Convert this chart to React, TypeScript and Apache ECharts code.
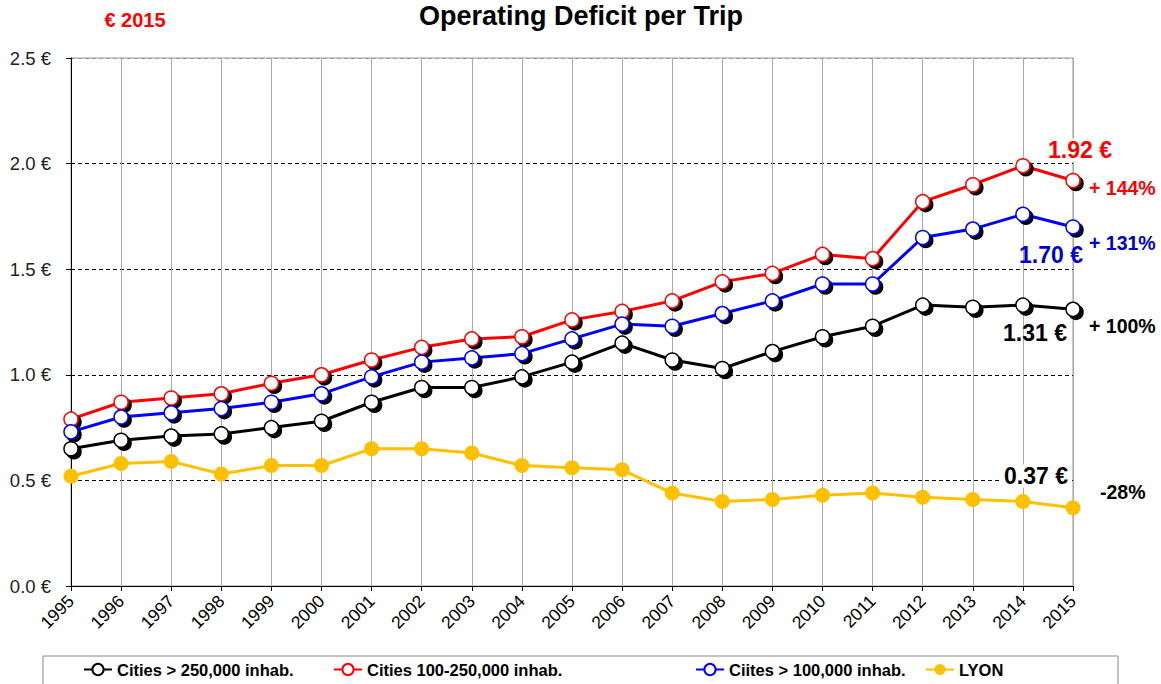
import React, { useEffect, useRef } from "react";
import * as echarts from "echarts";

const years = ["1995","1996","1997","1998","1999","2000","2001","2002","2003","2004","2005","2006","2007","2008","2009","2010","2011","2012","2013","2014","2015"];
const citiesOver250k = [0.65,0.69,0.71,0.72,0.75,0.78,0.87,0.94,0.94,0.99,1.06,1.15,1.07,1.03,1.11,1.18,1.23,1.33,1.32,1.33,1.31];
const cities100to250k = [0.79,0.87,0.89,0.91,0.96,1.00,1.07,1.13,1.17,1.18,1.26,1.30,1.35,1.44,1.48,1.57,1.55,1.82,1.90,1.99,1.92];
const citiesOver100k = [0.73,0.80,0.82,0.84,0.87,0.91,0.99,1.06,1.08,1.10,1.17,1.24,1.23,1.29,1.35,1.43,1.43,1.65,1.69,1.76,1.70];
const lyon = [0.52,0.58,0.59,0.53,0.57,0.57,0.65,0.65,0.63,0.57,0.56,0.55,0.44,0.40,0.41,0.43,0.44,0.42,0.41,0.40,0.37];
const seriesNames = ["Cities > 250,000 inhab.", "Cities 100-250,000 inhab.", "Ciites > 100,000 inhab.", "LYON"];

const FONT = "'Liberation Sans', Arial, sans-serif";

export default function App() {
  const ref = useRef<HTMLDivElement>(null);
  useEffect(() => {
    const chart = echarts.init(ref.current!, null, { renderer: "svg" });
    const hollow = (color: string, name: string, data: number[]) => ({
      name,
      type: "line",
      data,
      symbol: "circle",
      symbolSize: 14,
      lineStyle: { color, width: 3 },
      itemStyle: {
        color: "#fff",
        borderColor: color,
        borderWidth: 1.5,
        shadowColor: "#000",
        shadowBlur: 0,
        shadowOffsetX: 3,
        shadowOffsetY: 3,
      },
      emphasis: { disabled: true },
      z: 3,
    });
    const legendItem = (name: string, left: number) => ({
      data: [name],
      left,
      top: 661,
      itemWidth: 28,
      itemHeight: 14,
      itemGap: 0,
      padding: 0,
      textStyle: { fontFamily: FONT, fontWeight: "bold", fontSize: 16.5, color: "#000" },
      itemStyle: { shadowOffsetX: 0, shadowOffsetY: 0, shadowBlur: 0 },
    });
    const bold = (text: string, x: number, y: number, color: string, size: number, align: string, bg?: boolean) => ({
      type: "text",
      x,
      y,
      z: 100,
      style: {
        text,
        fill: color,
        font: `bold ${size}px ${FONT}`,
        align,
        verticalAlign: "middle",
        backgroundColor: bg ? "#fff" : undefined,
        padding: bg ? [0, 3] : undefined,
      },
    });
    chart.setOption({
      animation: false,
      grid: { left: 71, right: 88, top: 58, bottom: 98, show: true, borderColor: "#999", borderWidth: 1 },
      xAxis: {
        type: "category",
        data: years,
        boundaryGap: false,
        axisLine: { lineStyle: { color: "#000", width: 1 } },
        axisTick: { show: true, alignWithLabel: true, length: 5, lineStyle: { color: "#000" } },
        axisLabel: { rotate: 45, fontFamily: FONT, fontSize: 17.5, color: "#000", margin: 12 },
        splitLine: { show: true, lineStyle: { color: "#aaa", width: 1 } },
      },
      yAxis: {
        type: "value",
        min: 0,
        max: 2.5,
        interval: 0.5,
        axisLine: { show: true, lineStyle: { color: "#000", width: 1 } },
        axisTick: { show: true, length: 5, lineStyle: { color: "#000" } },
        axisLabel: { fontFamily: FONT, fontSize: 18.5, color: "#222", margin: 20, formatter: (v: number) => v.toFixed(1) + " €" },
        splitLine: { show: true, lineStyle: { color: ["#000", "#000", "#000", "#000", "#000", "#999"], type: [4, 3], width: 1 } },
      },
      legend: [
        legendItem(seriesNames[0], 83),
        legendItem(seriesNames[1], 333),
        legendItem(seriesNames[2], 695),
        legendItem(seriesNames[3], 925),
      ],
      series: [
        {
          name: seriesNames[3],
          type: "line",
          data: lyon,
          symbol: "circle",
          symbolSize: 15,
          lineStyle: { color: "#FFC000", width: 3 },
          itemStyle: { color: "#FFC000" },
          emphasis: { disabled: true },
          z: 2,
        },
        hollow("#000000", seriesNames[0], citiesOver250k),
        hollow("#FF0000", seriesNames[1], cities100to250k),
        hollow("#0000FF", seriesNames[2], citiesOver100k),
      ],
      graphic: [
        { type: "rect", shape: { x: 43, y: 656, width: 1075, height: 40 }, style: { fill: "none", stroke: "#888", lineWidth: 1 }, z: 0 },
        bold("Operating Deficit per Trip", 581, 16, "#000", 27, "center"),
        bold("€ 2015", 135, 20, "#FF0000", 20, "center"),
        bold("1.92 €", 1080, 150, "#FF0000", 23, "center", true),
        bold("+ 144%", 1089, 188, "#FF0000", 19.5, "left"),
        bold("1.70 €", 1083, 255, "#0000CC", 23, "right"),
        bold("+ 131%", 1089, 243, "#0000CC", 19.5, "left"),
        bold("1.31 €", 1067, 333, "#000", 23, "right"),
        bold("+ 100%", 1089, 326, "#000", 19.5, "left"),
        bold("0.37 €", 1071, 476, "#000", 23, "right", true),
        bold("-28%", 1100, 492, "#000", 19.5, "left"),
      ],
    });
    return () => chart.dispose();
  }, []);
  return <div ref={ref} style={{ position: "absolute", left: 0, top: 0, width: 1161, height: 684 }} />;
}
